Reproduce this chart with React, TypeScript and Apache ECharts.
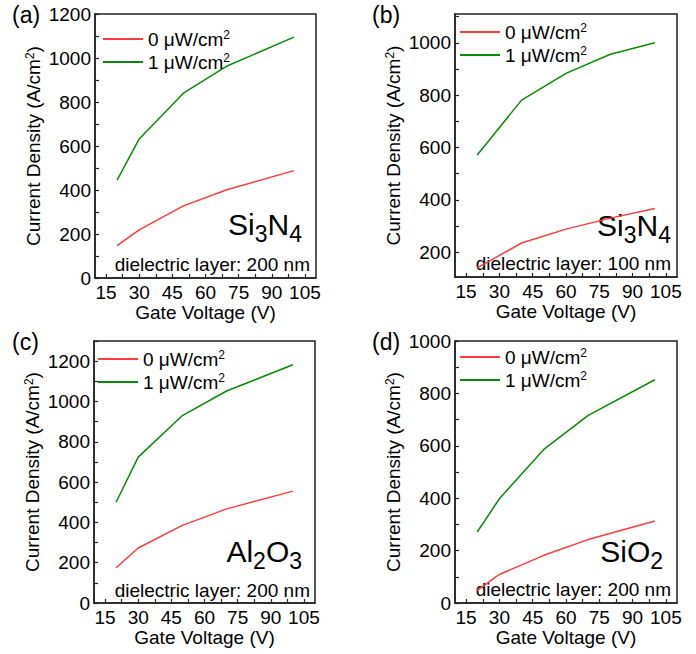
import React, { useEffect, useRef } from "react";
import * as echarts from "echarts";

// ---- data ----
const xA = [20, 30, 50, 70, 100];
const darkA = [147, 219, 328, 402, 488];
const lightA = [445, 632, 840, 965, 1095];

const xB = [20, 40, 60, 80, 100];
const darkB = [140, 235, 288, 330, 367];
const lightB = [571, 781, 883, 956, 1000];

const xC = [20, 30, 50, 70, 100];
const darkC = [175, 273, 385, 467, 555];
const lightC = [500, 724, 930, 1052, 1182];

const xD = [20, 30, 50, 70, 100];
const darkD = [48, 109, 182, 242, 313];
const lightD = [271, 398, 586, 716, 852];

const seriesNames = ["0 μW/cm2", "1 μW/cm2"];
const xTickLabels = [15, 30, 45, 60, 75, 90, 105];
const xTicks = [15, 22.5, 30, 37.5, 45, 52.5, 60, 67.5, 75, 82.5, 90, 97.5, 105];

const yLabelsA = [0, 200, 400, 600, 800, 1000, 1200];
const yTicksA = [0, 100, 200, 300, 400, 500, 600, 700, 800, 900, 1000, 1100, 1200];
const yLabelsB = [200, 400, 600, 800, 1000];
const yTicksB = [200, 300, 400, 500, 600, 700, 800, 900, 1000, 1100];
const yLabelsC = [0, 200, 400, 600, 800, 1000, 1200];
const yTicksC = [0, 100, 200, 300, 400, 500, 600, 700, 800, 900, 1000, 1100, 1200, 1300];
const yLabelsD = [0, 200, 400, 600, 800, 1000];
const yTicksD = [0, 100, 200, 300, 400, 500, 600, 700, 800, 900, 1000];

const panelLetters = ["(a)", "(b)", "(c)", "(d)"];
const materials = [
  "{m|Si}{sub|3}{m|N}{sub|4}",
  "{m|Si}{sub|3}{m|N}{sub|4}",
  "{m|Al}{sub|2}{m|O}{sub|3}",
  "{m|SiO}{sub|2}",
];
const layers = ["dielectric layer: 200 nm", "dielectric layer: 100 nm", "dielectric layer: 200 nm", "dielectric layer: 200 nm"];

const FONT = "'Liberation Sans', Arial, sans-serif";
const RED = "#ff3b3b";
const GREEN = "#0a8a0a";

export default function App() {
  const ref = useRef<HTMLDivElement>(null);
  useEffect(() => {
    document.body.style.margin = "0";
    const chart = echarts.init(ref.current!, undefined, { renderer: "svg" });

    const grids = [
      { left: 95, top: 14, width: 221, height: 264 },
      { left: 455, top: 14, width: 222, height: 263 },
      { left: 94, top: 341, width: 221, height: 262 },
      { left: 455, top: 341, width: 222, height: 262 },
    ];
    const yCfg = [
      { min: 0, max: 1200, labels: yLabelsA, ticks: yTicksA },
      { min: 105, max: 1110, labels: yLabelsB, ticks: yTicksB },
      { min: 0, max: 1300, labels: yLabelsC, ticks: yTicksC },
      { min: 0, max: 1000, labels: yLabelsD, ticks: yTicksD },
    ];
    const xs = [xA, xB, xC, xD];
    const darks = [darkA, darkB, darkC, darkD];
    const lights = [lightA, lightB, lightC, lightD];
    const legendPos = [
      { left: 103, top: 29 },
      { left: 460, top: 22 },
      { left: 98, top: 349 },
      { left: 460, top: 347 },
    ];
    const matPos = [
      { x: 302, y: 209 },
      { x: 671, y: 210 },
      { x: 302, y: 536 },
      { x: 663, y: 536 },
    ];
    const layerPos = [
      { x: 310, y: 264 },
      { x: 671, y: 263 },
      { x: 310, y: 590 },
      { x: 671, y: 589 },
    ];
    const letterPos = [
      { x: 12, y: 15 },
      { x: 372, y: 15 },
      { x: 12, y: 342 },
      { x: 372, y: 342 },
    ];

    const axisLine = { show: true, lineStyle: { color: "#222", width: 1.5 } };
    const labelStyle = { color: "#000", fontSize: 19, fontFamily: FONT };
    const plain = (v: number) => String(v);

    const xAxis = grids.map((_, i) => ({
      type: "value",
      gridIndex: i,
      min: 10,
      max: 110,
      axisLine,
      axisTick: { show: true, inside: true, length: 4, customValues: xTicks, lineStyle: { color: "#222", width: 1.2 } },
      axisLabel: { ...labelStyle, margin: 5, customValues: xTickLabels, formatter: plain },
      splitLine: { show: false },
      name: "Gate Voltage (V)",
      nameLocation: "middle",
      nameGap: 23,
      nameTextStyle: { color: "#000", fontSize: 19, fontFamily: FONT },
    }));

    const yAxis = grids.map((_, i) => ({
      type: "value",
      gridIndex: i,
      min: yCfg[i].min,
      max: yCfg[i].max,
      axisLine,
      axisTick: { show: true, inside: true, length: 4, customValues: yCfg[i].ticks, lineStyle: { color: "#222", width: 1.2 } },
      axisLabel: { ...labelStyle, margin: 4, customValues: yCfg[i].labels, formatter: plain },
      splitLine: { show: false },
      name: "Current Density (A/cm{sup|2})",
      nameLocation: "middle",
      nameRotate: 90,
      nameGap: 52,
      nameTextStyle: {
        color: "#000",
        fontSize: 19,
        fontFamily: FONT,
        rich: { sup: { fontSize: 12, fontFamily: FONT, color: "#000", verticalAlign: "top", lineHeight: 19 } },
      },
    }));

    const series: any[] = [];
    grids.forEach((_, i) => {
      series.push({
        type: "line",
        name: seriesNames[0],
        xAxisIndex: i,
        yAxisIndex: i,
        symbol: "none",
        lineStyle: { color: RED, width: 1.5 },
        itemStyle: { color: RED },
        data: xs[i].map((x, k) => [x, darks[i][k]]),
      });
      series.push({
        type: "line",
        name: seriesNames[1],
        xAxisIndex: i,
        yAxisIndex: i,
        symbol: "none",
        lineStyle: { color: GREEN, width: 1.5 },
        itemStyle: { color: GREEN },
        data: xs[i].map((x, k) => [x, lights[i][k]]),
      });
    });

    const legend = grids.map((_, i) => ({
      ...legendPos[i],
      orient: "vertical",
      padding: 0,
      icon: "rect",
      itemWidth: 40,
      itemHeight: 2,
      itemGap: 3,
      data: seriesNames,
      selectedMode: false,
      formatter: (n: string) => n.replace("cm2", "cm{sup|2}"),
      textStyle: {
        color: "#000",
        fontSize: 19,
        fontFamily: FONT,
        lineHeight: 20,
        rich: { sup: { fontSize: 12, fontFamily: FONT, color: "#000", verticalAlign: "top", lineHeight: 20 } },
      },
    }));

    const graphic: any[] = [];
    grids.forEach((_, i) => {
      graphic.push({
        type: "text",
        x: letterPos[i].x,
        y: letterPos[i].y,
        style: { text: panelLetters[i], fill: "#000", fontSize: 23, fontFamily: FONT, align: "left", verticalAlign: "middle" },
      });
      graphic.push({
        type: "text",
        x: matPos[i].x,
        y: matPos[i].y,
        style: {
          text: materials[i],
          fill: "#000",
          fontSize: 30,
          fontFamily: FONT,
          align: "right",
          verticalAlign: "top",
          rich: {
            m: { fontSize: 30, fontFamily: FONT, fill: "#000", lineHeight: 30, verticalAlign: "top" },
            sub: { fontSize: 23, fontFamily: FONT, fill: "#000", lineHeight: 36, verticalAlign: "bottom" },
          },
        },
      });
      graphic.push({
        type: "text",
        x: layerPos[i].x,
        y: layerPos[i].y,
        style: { text: layers[i], fill: "#000", fontSize: 19, fontFamily: FONT, align: "right", verticalAlign: "middle" },
      });
    });

    chart.setOption({
      animation: false,
      backgroundColor: "#fff",
      grid: grids.map((g) => ({ ...g, show: true, borderColor: "#222", borderWidth: 1.5, backgroundColor: "transparent" })),
      xAxis,
      yAxis,
      legend,
      series,
      graphic,
    } as any);

    return () => chart.dispose();
  }, []);

  return <div ref={ref} style={{ position: "absolute", left: 0, top: 0, width: 696, height: 654 }} />;
}
